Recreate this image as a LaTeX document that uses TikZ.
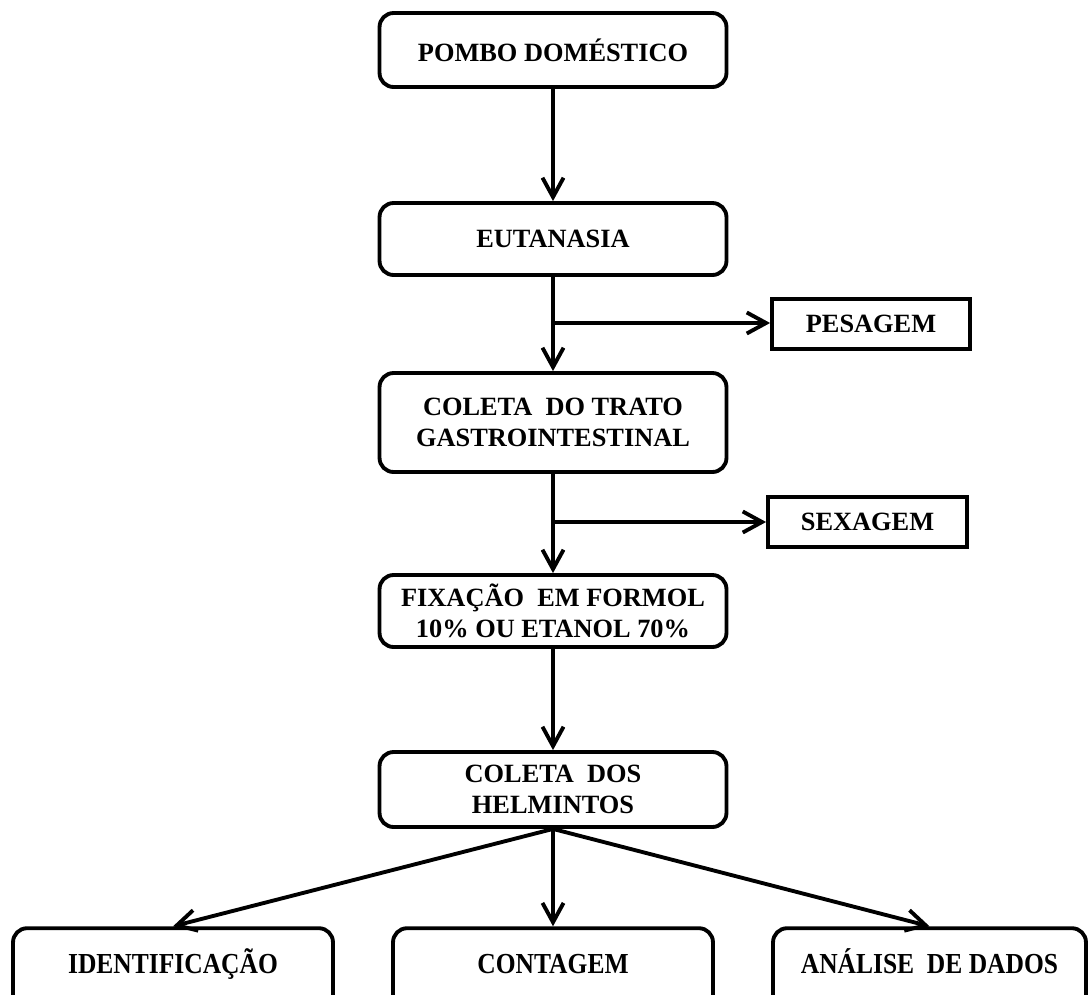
\documentclass[tikz,border=0pt]{standalone}
\usepackage{fontspec}
\setmainfont{Liberation Serif}
\newfontfamily\condfont[FakeStretch=0.88]{Liberation Serif}
\usetikzlibrary{arrows.meta,calc}
\tikzset{
  box/.style={draw, line width=2.2pt, rounded corners=8pt, align=center,
    font=\fontsize{15}{17.5}\selectfont\bfseries, minimum width=6.94cm, inner sep=2pt},
  sqbox/.style={draw, line width=2.2pt, align=center,
    font=\fontsize{15}{17.5}\selectfont\bfseries, minimum height=1.0cm, inner sep=2pt},
  botbox/.style={draw, line width=2.2pt, rounded corners=8pt, inner sep=0pt,
    font=\fontsize{16.5}{19}\selectfont\condfont\bfseries,
    text height=25.5pt, text depth=21pt, anchor=base},
  arr/.style={line width=2.2pt, -{Straight Barb[length=11pt,width=12pt]}},
  ln/.style={line width=2.2pt}
}
\begin{document}
\begin{tikzpicture}[x=0.02cm, y=-0.02cm]
\useasboundingbox (0,0) rectangle (1088,994);
\clip (0,0) rectangle (1088,994);
\node[box, minimum height=1.48cm] (pombo) at (553,50) {POMBO DOMÉSTICO};
\node[box, minimum height=1.44cm] (euta) at (553,239) {EUTANASIA};
\node[box, minimum height=1.98cm] (trato) at (553,422.5) {COLETA\ \ DO TRATO\\GASTROINTESTINAL};
\node[box, minimum height=1.44cm] (fix) at (553,611) {FIXAÇÃO\ \ EM FORMOL\\10\% OU ETANOL 70\%};
\node[box, minimum height=1.5cm] (helm) at (553,789.5) {COLETA\ \ DOS\\HELMINTOS};
\node[sqbox, minimum width=3.96cm] (pes) at (871,324) {PESAGEM};
\node[sqbox, minimum width=3.98cm] (sex) at (867.5,522) {SEXAGEM};
\node[botbox, minimum width=6.4cm] (ident) at (173,973) {IDENTIFICAÇÃO};
\node[botbox, minimum width=6.4cm] (cont) at (553,973) {CONTAGEM};
\node[botbox, minimum width=6.26cm] (anal) at (929.5,973) {ANÁLISE\ \ DE DADOS};
\coordinate (b1) at (553,323);
\coordinate (b2) at (553,522);
\draw[arr] (pombo) -- (euta);
\draw[arr] (euta) -- (trato);
\draw[arr] (b1) -- (b1 -| pes.west);
\draw[arr] (trato) -- (fix);
\draw[arr] (b2) -- (b2 -| sex.west);
\draw[arr] (fix) -- (helm);
\draw[arr] (helm.south) -- (ident.north);
\draw[arr] (helm.south) -- (cont.north);
\draw[arr] (helm.south) -- (anal.north);
\end{tikzpicture}
\end{document}
